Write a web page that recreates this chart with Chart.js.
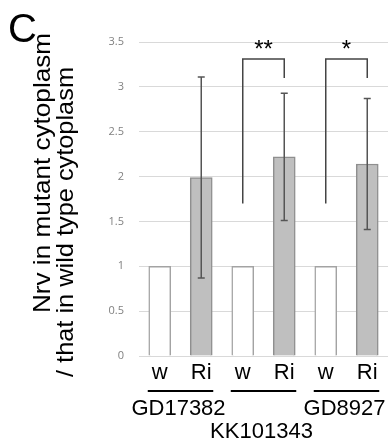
<!DOCTYPE html>
<html>
<head>
<meta charset="utf-8">
<script src="https://cdn.jsdelivr.net/npm/chart.js@4.4.1/dist/chart.umd.min.js"></script>
<style>
  html, body { margin: 0; padding: 0; background: #fff; }
  #wrap { width: 390px; height: 445px; position: relative; }
</style>
</head>
<body>
<div id="wrap"><canvas id="chart"></canvas></div>
<script>
// data
const categories = ['w', 'Ri', 'w', 'Ri', 'w', 'Ri'];
const means = [1, 1.99, 1, 2.22, 1, 2.14];
const errors = [0, 1.12, 0, 0.71, 0, 0.73];
const groupNames = ['GD17382', 'KK101343', 'GD8927'];
const groupFirst = [0, 2, 4];
const groupRow = [0, 1, 0];
const sigPairs = [[2, 3], [4, 5]];
const sigMarks = ['**', '*'];
const sigTop = [3.31, 3.31];
const sigLeftEnd = [1.70, 1.70];
const sigRightEnd = [3.10, 3.10];
const yTitle = ['Nrv in mutant cytoplasm', '/ that in wild type cytoplasm'];

const fills = categories.map(c => c === 'w' ? '#ffffff' : '#bfbfbf');
const borders = categories.map(c => c === 'w' ? '#a3a3a3' : '#8f8f8f');

const extras = {
  id: 'extras',
  afterDatasetsDraw(chart) {
    const ctx = chart.ctx;
    const x = chart.scales.x, y = chart.scales.y;
    ctx.save();
    // error bars
    ctx.strokeStyle = '#555';
    ctx.lineWidth = 1.5;
    means.forEach((m, i) => {
      if (!errors[i]) return;
      const px = x.getPixelForValue(i);
      const top = y.getPixelForValue(m + errors[i]);
      const bot = y.getPixelForValue(m - errors[i]);
      ctx.beginPath();
      ctx.moveTo(px, top); ctx.lineTo(px, bot);
      ctx.moveTo(px - 3.5, top); ctx.lineTo(px + 3.5, top);
      ctx.moveTo(px - 3.5, bot); ctx.lineTo(px + 3.5, bot);
      ctx.stroke();
    });
    // significance brackets
    ctx.strokeStyle = '#444';
    ctx.fillStyle = '#000';
    ctx.font = '24px "Liberation Sans", Arial, sans-serif';
    ctx.textAlign = 'center';
    ctx.textBaseline = 'alphabetic';
    sigPairs.forEach((p, k) => {
      const x1 = x.getPixelForValue(p[0]);
      const x2 = x.getPixelForValue(p[1]);
      const yt = y.getPixelForValue(sigTop[k]);
      ctx.beginPath();
      ctx.moveTo(x1, y.getPixelForValue(sigLeftEnd[k]));
      ctx.lineTo(x1, yt);
      ctx.lineTo(x2, yt);
      ctx.lineTo(x2, y.getPixelForValue(sigRightEnd[k]));
      ctx.stroke();
      ctx.fillText(sigMarks[k], (x1 + x2) / 2, yt - 2);
    });
    ctx.restore();
  },
  afterDraw(chart) {
    const ctx = chart.ctx;
    const x = chart.scales.x;
    const base = chart.chartArea.bottom;
    ctx.save();
    ctx.fillStyle = '#000';
    ctx.textAlign = 'center';
    ctx.textBaseline = 'alphabetic';
    ctx.font = '22px "Liberation Sans", Arial, sans-serif';
    categories.forEach((c, i) => {
      ctx.fillText(c, x.getPixelForValue(i), base + 23);
    });
    // group underlines and names
    ctx.strokeStyle = '#000';
    ctx.lineWidth = 2;
    groupNames.forEach((g, k) => {
      const a = x.getPixelForValue(groupFirst[k]);
      const b = x.getPixelForValue(groupFirst[k] + 1);
      ctx.beginPath();
      ctx.moveTo(a - 12, base + 35);
      ctx.lineTo(b + 12, base + 35);
      ctx.stroke();
      ctx.fillText(g, (a + b) / 2 - 2, base + 59 + groupRow[k] * 23);
    });
    // panel letter
    ctx.textAlign = 'left';
    ctx.font = '40px "Liberation Sans", Arial, sans-serif';
    ctx.fillText('C', 8, 42);
    // y axis title, two rotated lines
    ctx.font = '24px "Liberation Sans", Arial, sans-serif';
    const spots = [[50, 313, 280], [73, 377, 310]];
    yTitle.forEach((t, k) => {
      const [tx, ty, len] = spots[k];
      const w = ctx.measureText(t).width;
      ctx.save();
      ctx.translate(tx, ty);
      ctx.rotate(-Math.PI / 2);
      ctx.scale(len / w, 1);
      ctx.fillText(t, 0, 0);
      ctx.restore();
    });
    ctx.restore();
  }
};

new Chart(document.getElementById('chart'), {
  type: 'bar',
  data: {
    labels: categories,
    datasets: [{
      data: means,
      backgroundColor: fills,
      borderColor: borders,
      borderWidth: 1.5,
      barThickness: 22,
    }],
  },
  options: {
    responsive: true,
    maintainAspectRatio: false,
    animation: false,
    layout: { padding: { left: 0, right: 2, top: 42, bottom: 89 } },
    plugins: { legend: { display: false }, tooltip: { enabled: false } },
    scales: {
      x: { display: false },
      y: {
        min: 0,
        max: 3.5,
        afterFit(s) { s.width = 139; },
        border: { display: false },
        grid: { color: '#d9d9d9', lineWidth: 1, drawTicks: false },
        ticks: {
          stepSize: 0.5,
          padding: 15,
          color: '#808080',
          font: { family: '"Open Sans", sans-serif', size: 11 },
          callback: v => String(v),
        },
      },
    },
  },
  plugins: [extras],
});
</script>
</body>
</html>
